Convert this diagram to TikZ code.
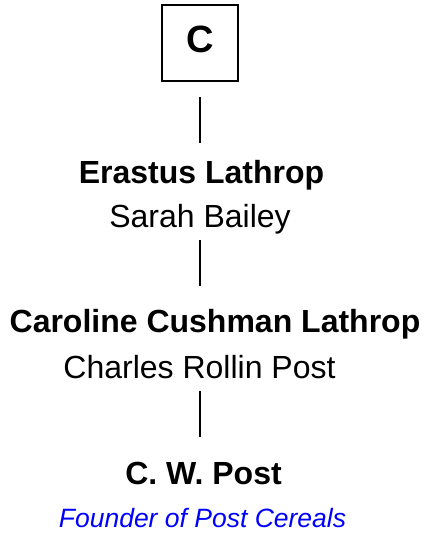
\documentclass[tikz,border=0pt]{standalone}
\usepackage{fontspec}
\setmainfont{Liberation Sans}
\definecolor{noteblue}{RGB}{0,0,255}
\tikzset{
	person/.style={anchor=base,inner sep=0pt,font=\fontsize{32}{38}\selectfont\bfseries},
	spouse/.style={anchor=base,inner sep=0pt,font=\fontsize{32}{38}\selectfont},
	note/.style={anchor=base,inner sep=0pt,text=noteblue,font=\fontsize{26.5}{32}\selectfont\itshape},
	letterbox/.style={draw,line width=1.3pt,minimum size=76pt,inner sep=0pt},
}
\begin{document}
\begin{tikzpicture}[x=1pt,y=-1pt,line width=1.2pt]
	\useasboundingbox (0,0) rectangle (427,536);
	\path
	(200,97)coordinate (T1) +(0,46)coordinate (B1)
	(200,240)coordinate (T2) +(0,46)coordinate (B2)
	(200,391)coordinate (T3) +(0,46)coordinate (B3)
		;
	\node[letterbox] (box) at (200,43) {};
	\node[anchor=base,inner sep=0pt,font=\fontsize{38}{44}\selectfont\bfseries] (letter) at (200,52) {C};
	\node[person] (erastus) at (201.5,183) {Erastus Lathrop};
	\node[spouse] (sarah) at (200,227) {Sarah Bailey};
	\node[person] (caroline) at (215,332) {Caroline Cushman Lathrop};
	\node[spouse] (charles) at (199.5,378) {Charles Rollin Post};
	\node[person] (cwpost) at (203.5,484) {C. W. Post};
	\node[note] (founder) at (202.5,527) {Founder of Post Cereals};
	\foreach \i in {1,2,3} \draw (T\i)--(B\i);
\end{tikzpicture}
\end{document}
